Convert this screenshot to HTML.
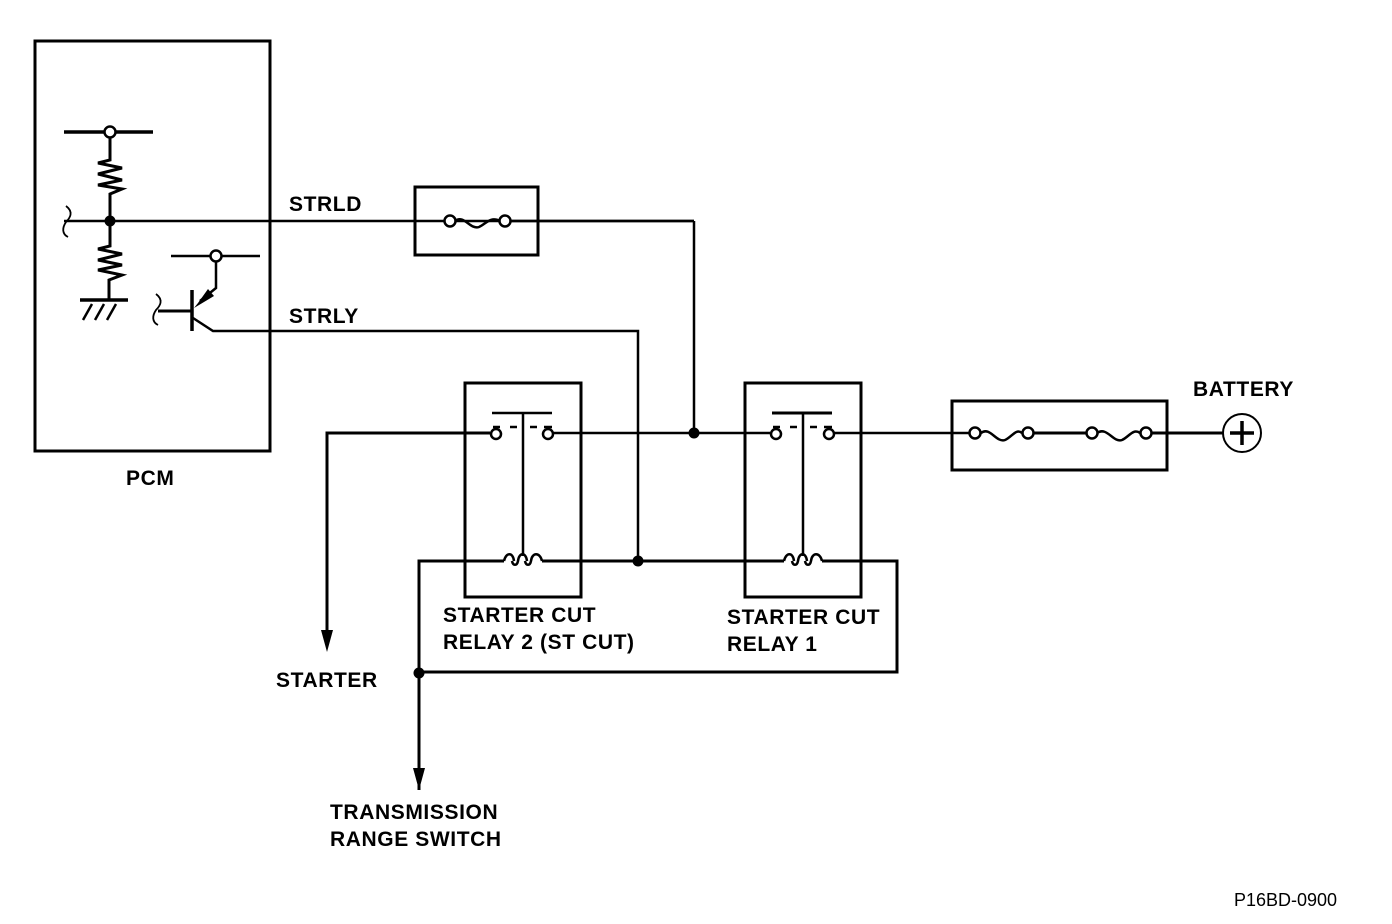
<!DOCTYPE html>
<html><head><meta charset="utf-8"><style>
html,body{margin:0;padding:0;background:#fff;}
svg{display:block;}
text{font-family:"Liberation Sans",Arial,sans-serif;font-weight:bold;font-size:21px;letter-spacing:0.6px;fill:#000;}
</style></head><body>
<svg width="1392" height="924" viewBox="0 0 1392 924" xmlns="http://www.w3.org/2000/svg">
<g fill="none" stroke="#000" stroke-width="2.5">
<rect x="35" y="41" width="235" height="410" stroke-width="3"/>
<line x1="64" y1="132" x2="153" y2="132" stroke-width="3.5"/>
<circle cx="110" cy="132" r="5.5" fill="#fff"/>
<polyline points="110,138 110,160 98,163 122,168 98,174 122,180 98,185 122,189 110,194 110,221" stroke-width="3"/>
<polyline points="110,221 110,246 98,249 122,254 98,260 122,265 98,270 122,275 109,280 109,300" stroke-width="3"/>
<line x1="80" y1="300" x2="128" y2="300" stroke-width="3.5"/>
<line x1="92" y1="304" x2="83" y2="320"/><line x1="104" y1="304" x2="95" y2="320"/><line x1="116" y1="304" x2="107" y2="320"/>
<path d="M66,206 C74,212 70,218 66,222 C62,228 62,234 68,237" stroke-width="1.8"/>
<line x1="64" y1="221" x2="694" y2="221" stroke-width="2.5"/>
<line x1="171" y1="256" x2="260" y2="256"/>
<circle cx="216" cy="256" r="5.5" fill="#fff"/>
<polyline points="216,262 216,288 200,301" stroke-width="2.5"/>
<line x1="192" y1="290" x2="192" y2="331" stroke-width="3.5"/>
<line x1="158" y1="311" x2="192" y2="311" stroke-width="3"/>
<path d="M156,294 C164,300 160,306 156,310 C152,316 152,322 158,325" stroke-width="1.8"/>
<polyline points="193,318 213,331 638,331 638,561" stroke-width="2.5"/>
<rect x="415" y="187" width="123" height="68" stroke-width="3"/>
<line x1="505" y1="221" x2="694" y2="221"/>
<line x1="694" y1="221" x2="694" y2="433"/>
<polyline points="327,645 327,433 490,433" stroke-width="3"/>
<line x1="553" y1="433" x2="770" y2="433"/>
<line x1="834" y1="433" x2="970" y2="433"/>
<rect x="465" y="383" width="116" height="214" stroke-width="3"/>
<line x1="492" y1="413" x2="552" y2="413"/>
<line x1="523" y1="413" x2="523" y2="556"/>
<line x1="493" y1="427" x2="500" y2="427"/><line x1="510" y1="427" x2="517" y2="427"/><line x1="530" y1="427" x2="537" y2="427"/><line x1="544" y1="427" x2="552" y2="427"/>
<circle cx="496" cy="434" r="5" fill="#fff"/><circle cx="548" cy="434" r="5" fill="#fff"/>
<rect x="745" y="383" width="116" height="214" stroke-width="3"/>
<line x1="772" y1="413" x2="832" y2="413" stroke-width="3"/>
<line x1="803" y1="413" x2="803" y2="556"/>
<line x1="773" y1="427" x2="780" y2="427"/><line x1="790" y1="427" x2="797" y2="427"/><line x1="810" y1="427" x2="817" y2="427"/><line x1="824" y1="427" x2="832" y2="427"/>
<circle cx="776" cy="434" r="5" fill="#fff"/><circle cx="829" cy="434" r="5" fill="#fff"/>
<polyline points="419,790 419,561 504,561" stroke-width="3"/>
<path d="M504,561 C506,552 513,552 514,561 M512,561 C513,566 517,566 518,561 C519,552 526,552 527,561 M525,561 C526,566 530,566 531,561 C532,552 540,552 542,561" stroke-width="2.5"/>
<line x1="542" y1="561" x2="784" y2="561" stroke-width="3"/>
<path d="M784,561 C786,552 793,552 794,561 M792,561 C793,566 797,566 798,561 C799,552 806,552 807,561 M805,561 C806,566 810,566 811,561 C812,552 820,552 822,561" stroke-width="2.5"/>
<polyline points="822,561 897,561 897,672 419,672" stroke-width="3"/>
<rect x="952" y="401" width="215" height="69" stroke-width="3"/>
<path d="M981,433 C990,426 996,443 1005,440 C1012,437 1016,428 1022,433" stroke-width="2.5"/>
<line x1="1033" y1="433" x2="1087" y2="433" stroke-width="3"/>
<path d="M1097,433 C1107,426 1113,443 1122,440 C1129,437 1133,428 1140,433" stroke-width="2.5"/>
<line x1="1151" y1="433" x2="1223" y2="433" stroke-width="3"/>
<circle cx="975" cy="433" r="5.5" fill="#fff"/><circle cx="1028" cy="433" r="5.5" fill="#fff"/>
<circle cx="1092" cy="433" r="5.5" fill="#fff"/><circle cx="1146" cy="433" r="5.5" fill="#fff"/>
<circle cx="1242" cy="433" r="19" stroke-width="2"/>
<line x1="1230" y1="433" x2="1254" y2="433" stroke-width="3.5"/><line x1="1242" y1="421" x2="1242" y2="445" stroke-width="3.5"/>
</g>
<g fill="none" stroke="#000" stroke-width="2.5">
<path d="M455,221 C464,214 470,230 479,227 C486,224 490,216 500,221"/>
<circle cx="450" cy="221" r="5.5" fill="#fff"/><circle cx="505" cy="221" r="5.5" fill="#fff"/>
</g>
<g fill="#000">
<circle cx="110" cy="221" r="5.5"/>
<circle cx="694" cy="433" r="5.5"/>
<circle cx="638" cy="561" r="5.5"/>
<circle cx="419" cy="673" r="5.5"/>
<polygon points="321,630 333,630 327,652"/>
<polygon points="413,768 425,768 419,790"/>
<polygon points="198,303 208,289 214,296 194,308"/>
</g>
<text x="289" y="211">STRLD</text>
<text x="289" y="323">STRLY</text>
<text x="126" y="485">PCM</text>
<text x="1193" y="396">BATTERY</text>
<text x="443" y="622">STARTER CUT</text>
<text x="443" y="649">RELAY 2 (ST CUT)</text>
<text x="727" y="624">STARTER CUT</text>
<text x="727" y="651">RELAY 1</text>
<text x="276" y="687">STARTER</text>
<text x="330" y="819">TRANSMISSION</text>
<text x="330" y="846">RANGE SWITCH</text>
<text x="1234" y="906" style="font-weight:normal;font-size:18px;letter-spacing:0">P16BD-0900</text>
</svg>
</body></html>
